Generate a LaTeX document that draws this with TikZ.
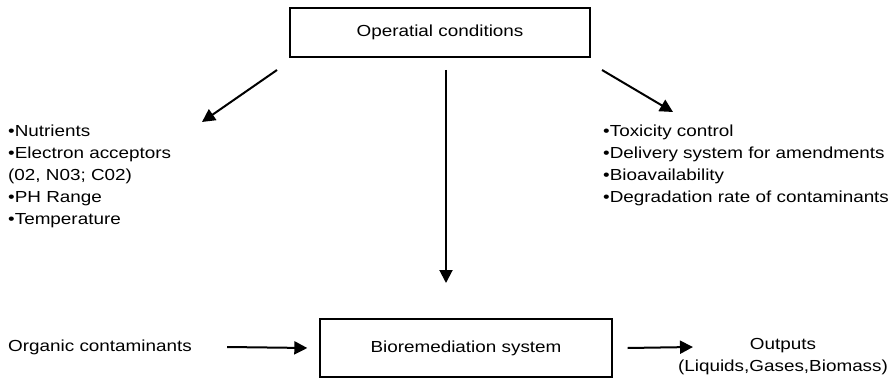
\documentclass[tikz,border=0pt]{standalone}
\usepackage{fontspec}
\setmainfont{Liberation Sans}[FakeStretch=1.18]
\usetikzlibrary{arrows.meta,positioning}

\tikzset{
  box/.style={draw, line width=1.4pt, rectangle, inner sep=0pt, font=\fontsize{16}{22}\selectfont},
  txt/.style={inner sep=0pt, font=\fontsize{16}{22}\selectfont},
  arr/.style={line width=2pt, -{Triangle[length=13pt,width=13pt]}}
}

\begin{document}
\begin{tikzpicture}[x=1pt,y=-1pt]
			%%%%% START %%%%%
			\useasboundingbox (0,0) rectangle (893,379);
			
			\node[box, minimum width=300, minimum height=49] (op) at (440,32.5) {Operatial conditions};
			\node[box, minimum width=292, minimum height=58] (bio) at (466,348) {Bioremediation system};
			
			\node[txt, anchor=west] (org) at (8,347) {Organic contaminants};
			\node[txt, align=center] (out) at (783,357) {Outputs\\(Liquids,Gases,Biomass)};
			
			\node[txt, anchor=north west, align=left] (leftlist) at (8,125)
			  {•Nutrients\\•Electron acceptors\\(02, N03; C02)\\•PH Range\\•Temperature};
			\node[txt, anchor=north west, align=left] (rightlist) at (603,125)
			  {•Toxicity control\\•Delivery system for amendments\\•Bioavailability\\•Degradation rate of contaminants};
			
			% ends of the three arrows leaving the top box
			\coordinate (lfrom) at (277,70);
			\coordinate (lto) at (202,122);
			\coordinate (rfrom) at (602,70);
			\coordinate (rto) at (673,112);
			\coordinate (mfrom) at (446,70);
			\coordinate (mto) at (446,283);
			\coordinate (outto) at (693,347);
			
			\draw[arr] (lfrom) -- (lto);
			\draw[arr] (rfrom) -- (rto);
			\draw[arr] (mfrom) -- (mto);
			
			\draw[arr] ([xshift=35]org.east) -- ([xshift=-12]bio.west);
			\draw[arr] ([xshift=15]bio.east) -- (outto);
			
			%%%%% END %%%%%
\end{tikzpicture}
\end{document}
